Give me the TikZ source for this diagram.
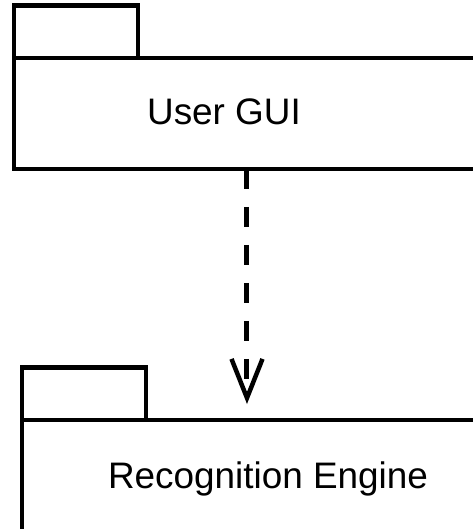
\documentclass[tikz,border=0pt]{standalone}
\usepackage{fontspec}
\setmainfont{Liberation Sans}
\usetikzlibrary{arrows.meta, positioning}
\begin{document}
\begin{tikzpicture}[
    x=0.02cm, y=-0.02cm,
    pkg/.style={rectangle, draw, line width=0.09cm, outer sep=0pt, inner sep=0pt},
    pkgtab/.style={pkg, minimum width=2.48cm, minimum height=1.05cm},
    pkgname/.style={anchor=base, font=\fontsize{21}{25}\selectfont},
    dep/.style={line width=0.1cm, dash pattern=on 0.4cm off 0.36cm,
        -{Straight Barb[length=0.78cm, width=0.62cm, line width=0.09cm]}}
  ]
  \useasboundingbox (0,0) rectangle (473,529);
  \clip (0,0) rectangle (473,529);
  % User GUI package
  \node[pkg, minimum width=9.52cm, minimum height=2.22cm] (gui) at (252,113.5) {};
  \node[pkgtab, above right=0cm and 0cm of gui.north west] (gui_tab) {};
  \node[pkgname] (gui_name) at (224,124) {User GUI};

  % Recognition Engine package
  \node[pkg, minimum width=9.56cm, minimum height=2.8cm] (engine) at (261,490) {};
  \node[pkgtab, above right=0cm and 0cm of engine.north west] (engine_tab) {};
  \node[pkgname] (engine_name) at (268,488) {Recognition Engine};

  % dependency
  \coordinate (dep_end) at (247,404);
  \draw[dep] (gui.south -| dep_end) -- (dep_end);
\end{tikzpicture}
\end{document}
